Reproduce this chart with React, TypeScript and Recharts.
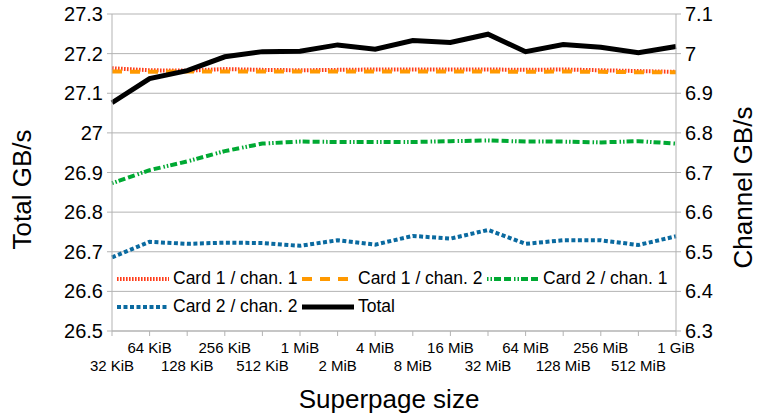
import { CartesianGrid, Label, Legend, Line, LineChart, XAxis, YAxis } from "recharts";

const sizes = [
    "32 KiB", "64 KiB", "128 KiB", "256 KiB", "512 KiB", "1 MiB", "2 MiB", "4 MiB",
    "8 MiB", "16 MiB", "32 MiB", "64 MiB", "128 MiB", "256 MiB", "512 MiB", "1 GiB",
];
const card1chan1 = [6.963, 6.958, 6.957, 6.961, 6.959, 6.958, 6.959, 6.960, 6.960, 6.960, 6.960, 6.959, 6.960, 6.958, 6.956, 6.954];
const card1chan2 = [6.955, 6.954, 6.955, 6.955, 6.955, 6.955, 6.955, 6.955, 6.955, 6.955, 6.955, 6.954, 6.955, 6.954, 6.953, 6.953];
const card2chan1 = [6.673, 6.706, 6.728, 6.754, 6.773, 6.778, 6.777, 6.777, 6.777, 6.779, 6.781, 6.778, 6.778, 6.776, 6.779, 6.773];
const card2chan2 = [6.486, 6.525, 6.520, 6.523, 6.522, 6.515, 6.529, 6.518, 6.540, 6.533, 6.555, 6.520, 6.529, 6.529, 6.517, 6.539];
const total = [27.076, 27.137, 27.157, 27.192, 27.205, 27.206, 27.222, 27.211, 27.233, 27.228, 27.249, 27.205, 27.223, 27.216, 27.202, 27.218];
const totalTicks = [26.5, 26.6, 26.7, 26.8, 26.9, 27, 27.1, 27.2, 27.3];
const channelTicks = [6.3, 6.4, 6.5, 6.6, 6.7, 6.8, 6.9, 7, 7.1];

const data = sizes.map((size, i) => ({
    size, c1c1: card1chan1[i], c1c2: card1chan2[i], c2c1: card2chan1[i], c2c2: card2chan2[i], total: total[i],
}));

const FONT = "'Liberation Sans', Arial, sans-serif";
const GRID = "#b3b3b3";

const series = [
    { key: "c1c1", name: "Card 1 / chan. 1", color: "#ff3d1a", dash: "1.6 1.4", width: 4, axis: "right" },
    { key: "c1c2", name: "Card 1 / chan. 2", color: "#ff9900", dash: "10 8", width: 4, axis: "right" },
    { key: "c2c1", name: "Card 2 / chan. 1", color: "#00a933", dash: "1.5 2 1.5 2 7 3 7 3", width: 4, axis: "right" },
    { key: "c2c2", name: "Card 2 / chan. 2", color: "#0a6aa0", dash: "4 2.5", width: 4, axis: "right" },
    { key: "total", name: "Total", color: "#000000", dash: undefined, width: 5, axis: "left" },
];

function SizeTick(props: any) {
    const { x, y, index, payload } = props;
    const odd = index % 2 === 1;
    return (
        <text x={x} y={y + (odd ? 15 : 33)} textAnchor="middle" fontSize={15} fontFamily={FONT} fill="#000">
            {payload.value}
        </text>
    );
}

function LegendBox() {
    return (
        <div style={{ display: "flex", flexWrap: "wrap", width: 560, fontFamily: FONT, fontSize: 17.5, color: "#000" }}>
            {series.map((s) => (
                <div key={s.key} style={{ width: 185, height: 27.7, display: "flex", alignItems: "center" }}>
                    <svg width={52} height={10} style={{ flex: "none" }}>
                        <line x1={0} y1={5} x2={52} y2={5} stroke={s.color} strokeWidth={s.width} strokeDasharray={s.dash} />
                    </svg>
                    <span style={{ marginLeft: 4, whiteSpace: "nowrap" }}>{s.name}</span>
                </div>
            ))}
        </div>
    );
}

export default function App() {
    return (
        <div style={{ position: "absolute", left: 0, top: 0, width: 766, height: 414, background: "#fff", fontFamily: FONT }}>
            <LineChart width={766} height={414} data={data} margin={{ top: 14, right: 0, left: 0, bottom: 0 }}>
                <CartesianGrid vertical={false} stroke={GRID} yAxisId="left" />
                <XAxis dataKey="size" interval={0} height={83} tick={<SizeTick />} tickSize={5} tickLine={{ stroke: GRID }} axisLine={{ stroke: GRID }}>
                    <Label content={(p: any) => {
                        const vb = p.viewBox;
                        return <text x={vb.x + vb.width / 2 - 5} y={408} textAnchor="middle" fontSize={26} fontFamily={FONT} fill="#000">Superpage size</text>;
                    }} />
                </XAxis>
                <YAxis yAxisId="left" domain={[26.5, 27.3]} ticks={totalTicks} width={112} tickSize={5} tickMargin={4}
                    tick={{ fontSize: 20, fill: "#000", fontFamily: FONT }} tickLine={{ stroke: GRID }} axisLine={{ stroke: GRID }}>
                    <Label content={(p: any) => {
                        const vb = p.viewBox;
                        const cx = vb.x + 22, cy = vb.y + vb.height / 2 + 17;
                        return <text x={cx} y={cy} transform={`rotate(-90 ${cx} ${cy})`} textAnchor="middle" dominantBaseline="central" fontSize={26} fontFamily={FONT} fill="#000">Total GB/s</text>;
                    }} />
                </YAxis>
                <YAxis yAxisId="right" orientation="right" domain={[6.3, 7.1]} ticks={channelTicks} width={90} tickSize={5} tickMargin={4}
                    tick={{ fontSize: 20, fill: "#000", fontFamily: FONT }} tickLine={{ stroke: GRID }} axisLine={{ stroke: GRID }}>
                    <Label content={(p: any) => {
                        const vb = p.viewBox;
                        const cx = vb.x + 67, cy = vb.y + vb.height / 2 + 15;
                        return <text x={cx} y={cy} transform={`rotate(-90 ${cx} ${cy})`} textAnchor="middle" dominantBaseline="central" fontSize={26} fontFamily={FONT} fill="#000">Channel GB/s</text>;
                    }} />
                </YAxis>
                <Legend layout="vertical" align="center" verticalAlign="middle" content={() => <LegendBox />}
                    wrapperStyle={{ position: "absolute", left: 117, top: 265, width: 560 }} />
                {series.map((s) => (
                    <Line key={s.key} yAxisId={s.axis} dataKey={s.key} name={s.name} stroke={s.color} strokeWidth={s.width}
                        strokeDasharray={s.dash} dot={false} activeDot={false} isAnimationActive={false} type="linear" />
                ))}
            </LineChart>
        </div>
    );
}
